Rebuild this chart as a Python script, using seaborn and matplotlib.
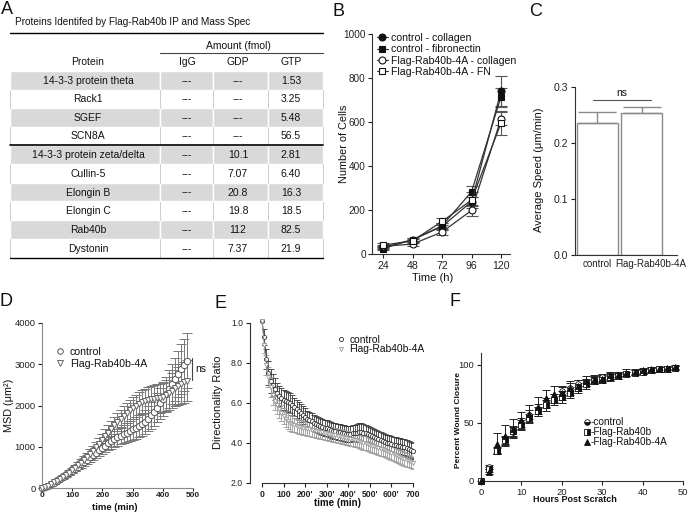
import numpy as np
import pandas as pd
import matplotlib
matplotlib.use("Agg")
import matplotlib.pyplot as plt
from matplotlib.transforms import Affine2D
from matplotlib.patches import Rectangle
from matplotlib.lines import Line2D
import seaborn as sns

# ---------------- data ----------------
# Panel A (table)
table_title = "Proteins Identifed by Flag-Rab40b IP and Mass Spec"
table_cols = ["Protein", "IgG", "GDP", "GTP"]
proteins = ["14-3-3 protein theta", "Rack1", "SGEF", "SCN8A",
            "14-3-3 protein zeta/delta", "Cullin-5", "Elongin B", "Elongin C",
            "Rab40b", "Dystonin"]
amount_igg = ["---", "---", "---", "---", "---", "---", "---", "---", "---", "---"]
amount_gdp = ["---", "---", "---", "---", "10.1", "7.07", "20.8", "19.8", "112", "7.37"]
amount_gtp = ["1.53", "3.25", "5.48", "56.5", "2.81", "6.40", "16.3", "18.5", "82.5", "21.9"]

# Panel B
time_b = [24, 48, 72, 96, 120]
b_ctrl_col = [30, 65, 125, 238, 740]
b_ctrl_col_err = [8, 10, 15, 20, 70]
b_ctrl_fn = [25, 65, 128, 283, 715]
b_ctrl_fn_err = [8, 10, 15, 25, 40]
b_flag_col = [35, 45, 100, 198, 615]
b_flag_col_err = [8, 10, 12, 25, 30]
b_flag_fn = [40, 60, 148, 245, 595]
b_flag_fn_err = [8, 10, 15, 35, 55]

# Panel C
groups_c = ["control", "Flag-Rab40b-4A"]
speed_c = [0.235, 0.253]
speed_c_err = [0.020, 0.011]

# Panel D
time_d = list(range(0, 490, 10))
msd_ctrl = [0, 25, 55, 90, 130, 175, 220, 265, 310, 360, 410, 465, 520, 575, 630, 690,
            745, 800, 860, 920, 980, 1030, 1080, 1130, 1180, 1230, 1270, 1310, 1340, 1380,
            1420, 1460, 1500, 1550, 1610, 1680, 1760, 1850, 1950, 2050, 2150, 2270, 2400,
            2520, 2640, 2760, 2880, 2990, 3090]
msd_ctrl_err = [0, 10, 15, 20, 25, 30, 35, 40, 45, 50, 55, 60, 70, 80, 90, 100, 110, 120,
                130, 140, 150, 160, 170, 180, 190, 200, 210, 220, 230, 240, 250, 260, 270,
                280, 290, 300, 320, 340, 360, 380, 400, 430, 460, 490, 520, 560, 600, 630, 660]
msd_flag = [0, 25, 55, 90, 135, 180, 225, 275, 325, 375, 430, 490, 550, 615, 680, 750,
            820, 900, 985, 1070, 1160, 1250, 1340, 1430, 1520, 1600, 1680, 1750, 1820, 1880,
            1940, 1990, 2040, 2080, 2110, 2130, 2150, 2160, 2170, 2180, 2200, 2250, 2300,
            2360, 2420, 2470, 2520, 2560, 2600]
msd_flag_err = [0, 10, 15, 20, 25, 30, 35, 40, 45, 50, 60, 70, 80, 90, 100, 110, 120, 130,
                140, 150, 160, 170, 180, 190, 200, 210, 220, 230, 240, 250, 260, 270, 280,
                290, 300, 310, 320, 330, 340, 350, 360, 380, 400, 420, 440, 460, 480, 490, 500]

# Panel E
time_e = list(range(0, 710, 10))
dr_ctrl = [10.1, 9.3, 8.2, 7.5, 7.1, 6.9, 6.7, 6.5, 6.35, 6.25,
           6.15, 6.1, 6.05, 6.0, 5.9, 5.8, 5.7, 5.6, 5.5, 5.4,
           5.3, 5.2, 5.15, 5.1, 5.0, 4.95, 4.9, 4.85, 4.8, 4.75,
           4.75, 4.7, 4.65, 4.6, 4.6, 4.55, 4.55, 4.5, 4.5, 4.45,
           4.45, 4.45, 4.5, 4.5, 4.5, 4.55, 4.55, 4.5, 4.5, 4.45,
           4.4, 4.35, 4.3, 4.25, 4.2, 4.15, 4.1, 4.05, 4.0, 4.0,
           3.95, 3.9, 3.9, 3.85, 3.85, 3.8, 3.8, 3.75, 3.7, 3.65,
           3.6]
dr_ctrl_err = [0.0, 0.4, 0.5, 0.6, 0.6, 0.55, 0.55, 0.5, 0.5, 0.5,
               0.5, 0.5, 0.5, 0.5, 0.5, 0.45, 0.45, 0.45, 0.45, 0.45,
               0.45, 0.4, 0.4, 0.4, 0.4, 0.4, 0.4, 0.4, 0.4, 0.4,
               0.4, 0.4, 0.4, 0.4, 0.4, 0.4, 0.4, 0.4, 0.4, 0.4,
               0.4, 0.4, 0.4, 0.4, 0.45, 0.45, 0.45, 0.45, 0.4, 0.4,
               0.4, 0.4, 0.4, 0.4, 0.4, 0.4, 0.4, 0.4, 0.4, 0.4,
               0.4, 0.4, 0.4, 0.4, 0.4, 0.4, 0.4, 0.4, 0.4, 0.4,
               0.4]
dr_flag = [10.1, 8.9, 7.9, 7.3, 6.8, 6.4, 6.1, 5.9, 5.7, 5.5,
           5.35, 5.2, 5.1, 5.0, 4.95, 4.9, 4.85, 4.8, 4.8, 4.75,
           4.75, 4.7, 4.7, 4.65, 4.65, 4.6, 4.6, 4.55, 4.55, 4.5,
           4.5, 4.45, 4.45, 4.4, 4.4, 4.35, 4.35, 4.3, 4.3, 4.25,
           4.25, 4.2, 4.2, 4.15, 4.15, 4.1, 4.05, 4.0, 4.0, 3.95,
           3.9, 3.85, 3.85, 3.8, 3.75, 3.7, 3.7, 3.65, 3.6, 3.55,
           3.5, 3.45, 3.4, 3.35, 3.3, 3.25, 3.2, 3.15, 3.1, 3.05,
           3.0]
dr_flag_err = [0.0, 0.4, 0.5, 0.5, 0.5, 0.5, 0.45, 0.45, 0.45, 0.4,
               0.4, 0.4, 0.4, 0.4, 0.4, 0.35, 0.35, 0.35, 0.35, 0.35,
               0.35, 0.35, 0.35, 0.35, 0.35, 0.35, 0.35, 0.35, 0.35, 0.35,
               0.35, 0.35, 0.35, 0.35, 0.35, 0.35, 0.35, 0.35, 0.35, 0.35,
               0.35, 0.35, 0.35, 0.35, 0.35, 0.35, 0.35, 0.35, 0.35, 0.35,
               0.35, 0.35, 0.35, 0.35, 0.35, 0.35, 0.35, 0.35, 0.35, 0.35,
               0.35, 0.35, 0.35, 0.35, 0.35, 0.35, 0.35, 0.35, 0.3, 0.3,
               0.3]
e_yticks = [2, 4, 6, 8, 10]
e_ytick_labels = ["2.0", "4.0", "6.0", "8.0", "1.0"]
e_xticks = [0, 100, 200, 300, 400, 500, 600, 700]
e_xtick_labels = ["0", "100", "200'", "300'", "400'", "500'", "600'", "700"]

# Panel F
time_f = [0, 2, 4, 6, 8, 10, 12, 14, 16, 18, 20, 22, 24, 26, 28, 30, 32, 34, 36, 38, 40, 42, 44, 46, 48]
wc_ctrl = [0, 12, 26, 35, 42, 50, 57, 62, 67, 71, 77, 80, 83, 85, 87, 89, 90, 91, 92, 93, 94, 95, 96, 96, 97]
wc_ctrl_err = [0, 2, 3, 4, 4, 4, 4, 4, 4, 4, 4, 4, 4, 3, 3, 3, 3, 2, 2, 2, 2, 2, 2, 2, 2]
wc_rab = [0, 10, 26, 35, 43, 48, 54, 60, 65, 70, 72, 76, 80, 83, 86, 87, 89, 90, 92, 93, 94, 95, 96, 96, 97]
wc_rab_err = [0, 2, 2, 3, 4, 4, 4, 4, 5, 5, 5, 5, 4, 4, 3, 3, 3, 2, 2, 2, 2, 2, 2, 2, 2]
wc_4a = [0, 8, 32, 39, 45, 52, 58, 64, 71, 75, 76, 80, 82, 86, 87, 88, 91, 91, 93, 94, 95, 96, 96, 97, 98]
wc_4a_err = [0, 2, 9, 9, 8, 7, 7, 8, 7, 7, 6, 6, 5, 4, 4, 3, 3, 3, 3, 2, 2, 2, 2, 2, 2]

# ---------------- style ----------------
sns.set_theme(style="ticks")
plt.rcParams["font.family"] = ["Liberation Sans", "DejaVu Sans"]
plt.rcParams.update({
    "axes.linewidth": 0.8, "axes.edgecolor": "#333333",
    "xtick.major.width": 0.8, "ytick.major.width": 0.8,
    "xtick.major.size": 3, "ytick.major.size": 3,
    "xtick.major.pad": 2, "ytick.major.pad": 2,
    "xtick.color": "#222222", "ytick.color": "#222222",
    "text.color": "#111111", "axes.labelcolor": "#111111",
})

W, H = 700, 514
fig = plt.figure(figsize=(W / 100, H / 100), dpi=100)
PX = Affine2D().scale(1, -1).translate(0, H)


def add_ax(x0, y0, x1, y1):
    return fig.add_axes([x0 / W, 1 - y1 / H, (x1 - x0) / W, (y1 - y0) / H])


def ylab(ax, text, x, y, **kw):
    ax.set_ylabel(text, va="center", ha="center", **kw)
    ax.yaxis.set_label_coords(x, y, transform=PX)


def xlab(ax, text, x, y, **kw):
    ax.set_xlabel(text, va="center", ha="center", **kw)
    ax.xaxis.set_label_coords(x, y, transform=PX)


def leg(ax, handles, labels, x, y, fs, **kw):
    ax.legend(handles, labels, loc="upper left", bbox_to_anchor=(x / W, 1 - y / H),
              bbox_transform=fig.transFigure, frameon=False, borderpad=0,
              borderaxespad=0, fontsize=fs, **kw)


# ---------------- overlay (table + letters) ----------------
bg = fig.add_axes([0, 0, 1, 1], zorder=10)
bg.set_xlim(0, W)
bg.set_ylim(H, 0)
bg.axis("off")

for letter, (lx, ly) in zip("ABCDEF", [(7, 10), (338, 11), (536, 11), (6, 301), (220, 303), (455, 302)]):
    bg.text(lx, ly, letter, fontsize=13, ha="center", va="center")

col_edges = [10, 160, 213, 268, 323]
col_centers = [88, 187, 238, 291]
TFS = 7.5
bg.text(15, 22, table_title, fontsize=7.2, ha="left", va="center")
bg.plot([10, 323], [33, 33], color="black", lw=1.0)
bg.text(238, 46, "Amount (fmol)", fontsize=TFS, ha="center", va="center")
bg.plot([160, 323], [52.5, 52.5], color="#444444", lw=0.8)
for cx, name in zip(col_centers, table_cols):
    bg.text(cx, 62, name, fontsize=TFS, ha="center", va="center")

row_bounds = list(np.linspace(71, 145, 5)[:-1]) + list(np.linspace(145, 258, 7))
for i, cells in enumerate(zip(proteins, amount_igg, amount_gdp, amount_gtp)):
    top, bot = row_bounds[i], row_bounds[i + 1]
    if i % 2 == 0:
        for c0, c1 in zip(col_edges[:-1], col_edges[1:]):
            bg.add_patch(Rectangle((c0, top), c1 - c0, bot - top, facecolor="#d9d9d9",
                                   edgecolor="white", lw=1.0))
    else:
        for ce in col_edges:
            bg.plot([ce, ce], [top, bot], color="#c4c4c4", lw=0.6)
    for cx, txt in zip(col_centers, cells):
        bg.text(cx, (top + bot) / 2 + 0.5, txt, fontsize=TFS, ha="center", va="center")
bg.plot([10, 323], [145, 145], color="black", lw=1.2)
bg.plot([10, 323], [258, 258], color="black", lw=1.0)

# ---------------- panel B ----------------
axB = add_ax(372, 34, 510, 254)
b_series = [("control - collagen", b_ctrl_col, b_ctrl_col_err, "o", "#111111"),
            ("control - fibronectin", b_ctrl_fn, b_ctrl_fn_err, "s", "#111111"),
            ("Flag-Rab40b-4A - collagen", b_flag_col, b_flag_col_err, "o", "white"),
            ("Flag-Rab40b-4A - FN", b_flag_fn, b_flag_fn_err, "s", "white")]
b_handles = []
for name, vals, err, mk, fc in b_series:
    axB.errorbar(time_b, vals, yerr=err, fmt="none", ecolor="#555555", elinewidth=0.8,
                 capsize=4, capthick=0.8, zorder=2)
    sns.lineplot(x=time_b, y=vals, ax=axB, color="#333333", lw=0.9, marker=mk,
                 markersize=5, markerfacecolor=fc, markeredgecolor="#111111",
                 markeredgewidth=0.8, zorder=3, legend=False)
    b_handles.append(Line2D([], [], color="#333333", lw=0.8, marker=mk, markersize=5,
                            markerfacecolor=fc, markeredgecolor="#111111", markeredgewidth=0.8))
axB.set_xlim(15, 127.3)
axB.set_ylim(0, 1000)
axB.set_xticks(time_b)
axB.set_yticks([0, 200, 400, 600, 800, 1000])
axB.tick_params(axis="x", labelsize=7.6)
axB.tick_params(axis="y", labelsize=7.2, pad=1.5)
sns.despine(ax=axB)
ylab(axB, "Number of Cells", 344, 144, fontsize=7.8)
xlab(axB, "Time (h)", 433, 278, fontsize=8)
leg(axB, b_handles, [s[0] for s in b_series], 377, 33, 7.6,
    handlelength=1.0, handletextpad=0.3, labelspacing=0.12)

# ---------------- panel C ----------------
axC = add_ax(575, 87, 677, 255)
sns.barplot(x=groups_c, y=speed_c, color="white", edgecolor="#8a8a8a", linewidth=1.0,
            width=0.92, errorbar=None, ax=axC)
for p in axC.patches:
    p.set_facecolor("white")
axC.errorbar([0, 1], speed_c, yerr=[[0, 0], speed_c_err], fmt="none", ecolor="#8a8a8a",
             elinewidth=1.0, capsize=14, capthick=1.0, zorder=3)
axC.plot([-0.1, 1.2], [0.277, 0.277], color="#555555", lw=0.8)
axC.text(0.55, 0.281, "ns", fontsize=7.5, ha="center", va="bottom")
axC.set_xlim(-0.5, 1.79)
axC.set_ylim(0, 0.3)
axC.set_yticks([0.0, 0.1, 0.2, 0.3])
axC.set_yticklabels(["0.0", "0.1", "0.2", "0.3"])
axC.set_xticks([0.0, 1.2])
axC.set_xticklabels(groups_c)
axC.tick_params(axis="x", length=0, labelsize=7, pad=3)
axC.tick_params(axis="y", labelsize=7.6)
sns.despine(ax=axC)
ylab(axC, "Average Speed (\u03bcm/min)", 539, 170, fontsize=8)
axC.set_xlabel("")

# ---------------- panel D ----------------
axD = add_ax(42, 323, 193, 488)
d_series = [("control", msd_ctrl, msd_ctrl_err, "o", "#555555"),
            ("Flag-Rab40b-4A", msd_flag, msd_flag_err, "v", "#666666")]
d_handles = []
for name, vals, err, mk, col in d_series:
    axD.errorbar(time_d, vals, yerr=err, fmt="none", ecolor="#777777", elinewidth=0.7,
                 capsize=3.5, capthick=0.7, zorder=2)
    sns.lineplot(x=time_d, y=vals, ax=axD, color=col, lw=0.8, marker=mk, markersize=4.6,
                 markerfacecolor="white", markeredgecolor=col, markeredgewidth=0.7,
                 zorder=3, legend=False, clip_on=False)
    d_handles.append(Line2D([], [], ls="none", marker=mk, markersize=4,
                            markerfacecolor="white", markeredgecolor=col, markeredgewidth=0.7))
axD.set_xlim(0, 500)
axD.set_ylim(0, 4000)
axD.set_xticks([0, 100, 200, 300, 400, 500])
axD.set_yticks([0, 1000, 2000, 3000, 4000])
axD.tick_params(axis="x", labelsize=6, length=2, pad=1)
axD.tick_params(axis="y", labelsize=6.8, pad=1.5)
for t in axD.get_xticklabels():
    t.set_fontweight("bold")
sns.despine(ax=axD)
axD.spines["left"].set_color("#888888")
axD.spines["bottom"].set_color("#888888")
axD.plot([495.7, 495.7], [2618, 3151], color="#444444", lw=0.8, clip_on=False)
axD.text(507, 2885, "ns", fontsize=7.5, ha="left", va="center", clip_on=False)
ylab(axD, "MSD (\u03bcm\u00b2)", 9, 405, fontsize=7.8)
xlab(axD, "time (min)", 115, 507, fontsize=6.8, fontweight="bold")
leg(axD, d_handles, ["control", "Flag-Rab40b-4A"], 56, 347, 7.6,
    handlelength=0.8, handletextpad=0.5, labelspacing=0.2)

# ---------------- panel E ----------------
axE = add_ax(262, 323, 413, 483)
e_series = [("control", dr_ctrl, dr_ctrl_err, "o", "#333333"),
            ("Flag-Rab40b-4A", dr_flag, dr_flag_err, "v", "#9a9a9a")]
e_handles = []
for name, vals, err, mk, col in e_series:
    axE.errorbar(time_e, vals, yerr=err, fmt="none", ecolor=col, elinewidth=0.6,
                 capsize=2.5, capthick=0.6, zorder=2)
    sns.lineplot(x=time_e, y=vals, ax=axE, color=col, lw=0.7, marker=mk, markersize=3,
                 markerfacecolor="white", markeredgecolor=col, markeredgewidth=0.6,
                 zorder=3, legend=False, clip_on=False)
    e_handles.append(Line2D([], [], ls="none", marker=mk, markersize=3,
                            markerfacecolor="white", markeredgecolor=col, markeredgewidth=0.6))
axE.set_xlim(0, 700)
axE.set_ylim(2, 10)
axE.set_yticks(e_yticks)
axE.set_yticklabels(e_ytick_labels)
axE.set_xticks(e_xticks)
axE.set_xticklabels(e_xtick_labels)
axE.tick_params(axis="x", labelsize=6.2)
axE.tick_params(axis="y", labelsize=6.2)
for t in axE.get_xticklabels():
    t.set_fontweight("bold")
sns.despine(ax=axE)
axE.spines["left"].set_position(("outward", 8.6))
ylab(axE, "Directionality Ratio", 218, 402, fontsize=8)
xlab(axE, "time (min)", 338, 503, fontsize=7, fontweight="bold")
leg(axE, e_handles, ["control", "Flag-Rab40b-4A"], 338, 335, 7.4,
    handlelength=0.6, handletextpad=0.5, labelspacing=-0.05)

# ---------------- panel F ----------------
axF = add_ax(481, 353, 683, 481)
f_series = [("-control", wc_ctrl, wc_ctrl_err, "o", "bottom"),
            ("-Flag-Rab40b", wc_rab, wc_rab_err, "s", "right"),
            ("-Flag-Rab40b-4A", wc_4a, wc_4a_err, "^", "full")]
f_handles = []
for name, vals, err, mk, fs in f_series:
    axF.errorbar(time_f, vals, yerr=err, fmt="none", ecolor="#222222", elinewidth=0.7,
                 capsize=3, capthick=0.7, zorder=2)
    sns.lineplot(x=time_f, y=vals, ax=axF, ls="none", marker=mk, markersize=4,
                 color="#111111", markerfacecolor="#111111", markerfacecoloralt="white",
                 markeredgecolor="#111111", markeredgewidth=0.6, fillstyle=fs,
                 zorder=3, legend=False, clip_on=False)
    f_handles.append(Line2D([], [], ls="none", marker=mk, markersize=4, color="#111111",
                            markerfacecolor="#111111", markerfacecoloralt="white",
                            markeredgecolor="#111111", markeredgewidth=0.6, fillstyle=fs))
axF.set_xlim(0, 50)
axF.set_ylim(0, 110)
axF.set_xticks([0, 10, 20, 30, 40, 50])
axF.set_yticks([0, 50, 100])
axF.tick_params(labelsize=6.8)
sns.despine(ax=axF)
ylab(axF, "Percent Wound Closure", 458, 420, fontsize=6, fontweight="bold")
xlab(axF, "Hours Post Scratch", 575, 500, fontsize=6.5, fontweight="bold")
leg(axF, f_handles, [s[0] for s in f_series], 584, 417, 7.2,
    handlelength=0.6, handletextpad=0.1, labelspacing=0.0)

fig.savefig("out.png", dpi=100)
